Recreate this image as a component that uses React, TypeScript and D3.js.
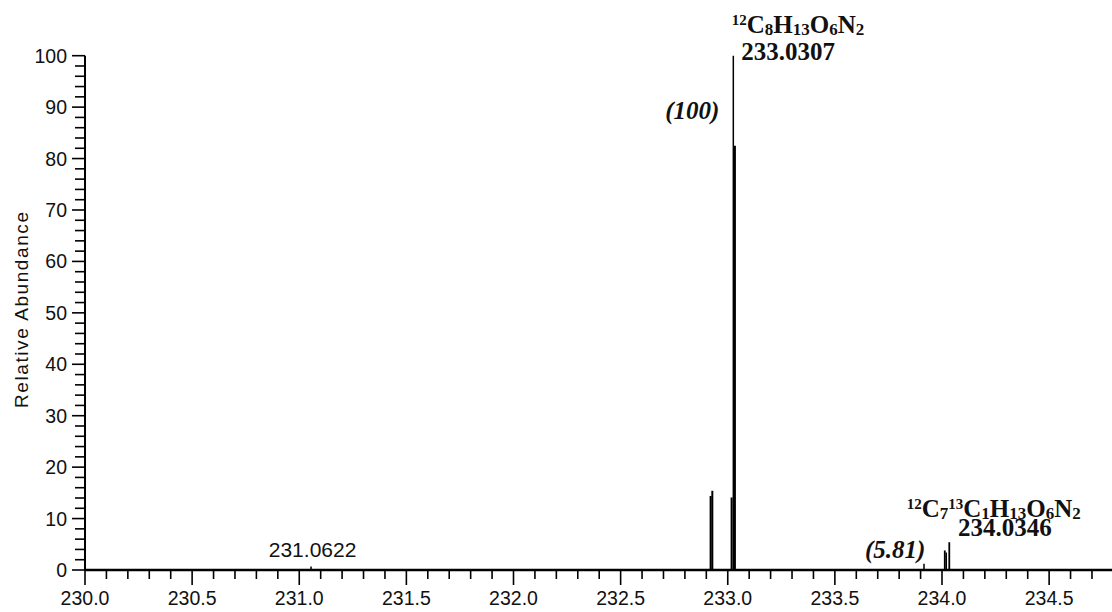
import React from "react";
import * as d3 from "d3";

// ---- data ----
const peakMz = [231.055, 232.92, 232.928, 233.018, 233.026, 233.033, 233.916, 234.013, 234.02, 234.034];
const peakAbundance = [0.7, 14.4, 15.4, 14.1, 100, 82.5, 1.2, 3.8, 3.4, 5.4];
const peakWidths = [1.5, 2, 2, 2, 1.5, 2.2, 1.5, 1.8, 1.5, 1.8];

const xMajorTicks = [230.0, 230.5, 231.0, 231.5, 232.0, 232.5, 233.0, 233.5, 234.0, 234.5];
const yMajorTicks = [0, 10, 20, 30, 40, 50, 60, 70, 80, 90, 100];

const label1Mass = "233.0307";
const label1Rel = "(100)";
const label2Mass = "234.0346";
const label2Rel = "(5.81)";
const label3Mass = "231.0622";
const formula1: [string, string][] = [["12", "sup"], ["C", ""], ["8", "sub"], ["H", ""], ["13", "sub"], ["O", ""], ["6", "sub"], ["N", ""], ["2", "sub"]];
const formula2: [string, string][] = [["12", "sup"], ["C", ""], ["7", "sub"], ["13", "sup"], ["C", ""], ["1", "sub"], ["H", ""], ["13", "sub"], ["O", ""], ["6", "sub"], ["N", ""], ["2", "sub"]];
const yTitle = "Relative Abundance";

const W = 1112;
const H = 612;
const SANS = "'Liberation Sans', Arial, sans-serif";
const SERIF = "'Liberation Serif', 'Times New Roman', serif";

function Formula({ x, y, parts }: { x: number; y: number; parts: [string, string][] }) {
  let cur = 0;
  const spans = parts.map(([t, kind], i) => {
    const target = kind === "sup" ? -8 : kind === "sub" ? 2 : 0;
    const dy = target - cur;
    cur = target;
    const fs = kind === "sup" ? 15 : kind === "sub" ? 17 : 25;
    return (
      <tspan key={i} dy={dy} fontSize={fs}>
        {t}
      </tspan>
    );
  });
  return (
    <text x={x} y={y} fontFamily={SERIF} fontWeight="bold" fill="#111" fontSize={25}>
      {spans}
    </text>
  );
}

export default function App() {
  const x = d3.scaleLinear().domain([230, 234]).range([85, 942]);
  const xEnd = x.invert(W);
  const y = d3.scaleLinear().domain([0, 100]).range([570, 55.7]);

  const xMinor = d3.range(0, Math.floor((xEnd - 230) / 0.1) + 1).map((i) => 230 + i * 0.1);
  const yMinor = d3.range(0, 51).map((i) => i * 2);

  const x0 = x(230);
  const y0 = y(0);

  return (
    <svg
      width={W}
      height={H}
      style={{ position: "absolute", left: 0, top: 0, background: "#fff" }}
    >
      <rect x={0} y={0} width={W} height={H} fill="#fff" />
      {/* peaks */}
      {peakMz.map((m, i) => (
        <line
          key={"p" + i}
          x1={x(m)}
          x2={x(m)}
          y1={y0}
          y2={y(peakAbundance[i])}
          stroke="#000"
          strokeWidth={peakWidths[i]}
        />
      ))}
      {/* x axis */}
      <line x1={x0} x2={W} y1={y0} y2={y0} stroke="#000" strokeWidth={2.5} />
      {xMinor.map((v, i) => {
        const major = Math.abs(v * 2 - Math.round(v * 2)) < 1e-6;
        return (
          <line
            key={"xm" + i}
            x1={x(v)}
            x2={x(v)}
            y1={y0}
            y2={y0 + (major ? 15 : 9)}
            stroke="#000"
            strokeWidth={1.6}
          />
        );
      })}
      {xMajorTicks.map((v) => (
        <text
          key={"xl" + v}
          x={x(v)}
          y={605}
          textAnchor="middle"
          fontFamily={SANS}
          fontSize={19.5}
          fill="#111"
        >
          {d3.format(".1f")(v)}
        </text>
      ))}
      {/* y axis */}
      <line x1={x0} x2={x0} y1={y(100)} y2={y0} stroke="#000" strokeWidth={2} />
      {yMinor.map((v) => {
        const major = v % 10 === 0;
        return (
          <line
            key={"ym" + v}
            x1={x0}
            x2={x0 - (major ? 13 : 10)}
            y1={y(v)}
            y2={y(v)}
            stroke="#000"
            strokeWidth={1.6}
          />
        );
      })}
      {yMajorTicks.map((v) => (
        <text
          key={"yl" + v}
          x={67}
          y={y(v)}
          dy="0.36em"
          textAnchor="end"
          fontFamily={SANS}
          fontSize={19.5}
          fill="#111"
        >
          {v}
        </text>
      ))}
      <text
        transform="translate(28,310) rotate(-90)"
        textAnchor="middle"
        fontFamily={SANS}
        fontSize={19}
        fill="#111"
        textLength={196}
        lengthAdjust="spacing"
      >
        {yTitle}
      </text>

      {/* annotations */}
      <Formula x={x(233.0307) - 2.6} y={33} parts={formula1} />
      <text x={x(233.0307) + 7} y={60} fontFamily={SERIF} fontWeight="bold" fontSize={25} fill="#111">
        {label1Mass}
      </text>
      <text
        x={x(233.0307) - 15}
        y={119}
        textAnchor="end"
        fontFamily={SERIF}
        fontWeight="bold"
        fontStyle="italic"
        fontSize={25}
        fill="#111"
      >
        {label1Rel}
      </text>

      <Formula x={x(234.0346) - 42.7} y={517} parts={formula2} />
      <text x={x(234.0346) + 8.6} y={536} fontFamily={SERIF} fontWeight="bold" fontSize={25} fill="#111">
        {label2Mass}
      </text>
      <text
        x={x(234.0346) - 24}
        y={558}
        textAnchor="end"
        fontFamily={SERIF}
        fontWeight="bold"
        fontStyle="italic"
        fontSize={25}
        fill="#111"
      >
        {label2Rel}
      </text>

      <text
        x={x(231.0622)}
        y={557}
        textAnchor="middle"
        fontFamily={SANS}
        fontSize={21}
        fill="#111"
      >
        {label3Mass}
      </text>
    </svg>
  );
}
